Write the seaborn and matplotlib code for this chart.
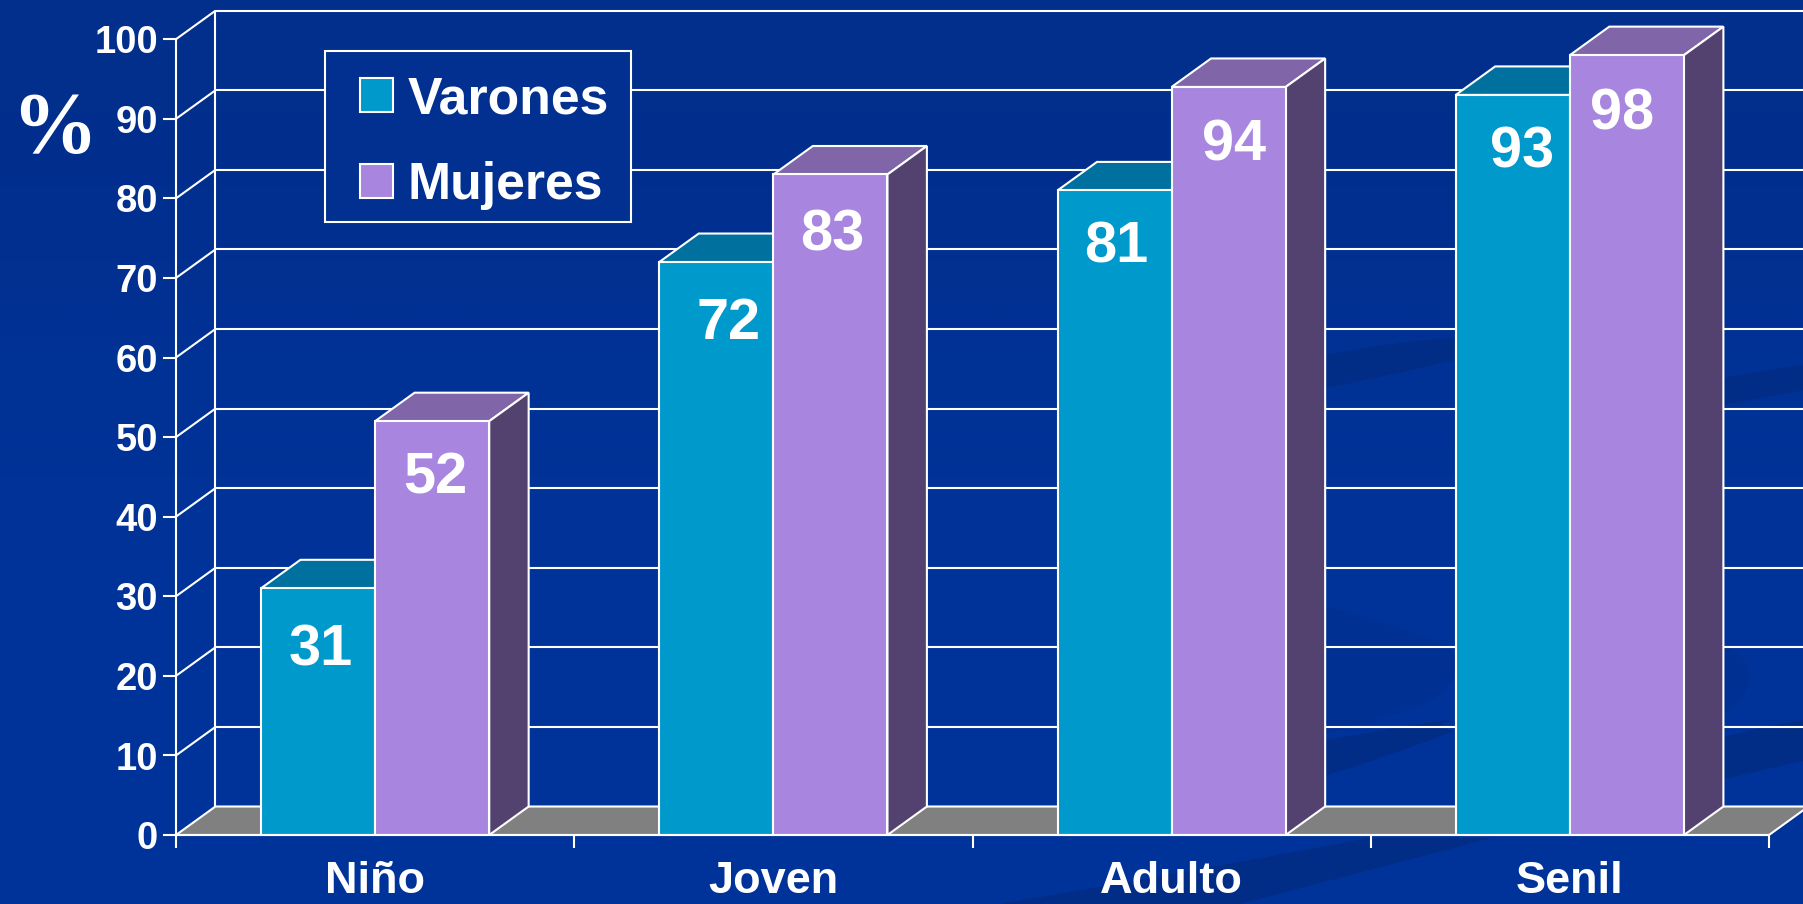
import numpy as np
import pandas as pd
import matplotlib
matplotlib.use('Agg')
import matplotlib.pyplot as plt
from matplotlib.patches import Polygon, PathPatch, Rectangle
from matplotlib.path import Path
import seaborn as sns

# Values
grupos = ['Niño', 'Joven', 'Adulto', 'Senil']
varones = [31, 72, 81, 93]
mujeres = [52, 83, 94, 98]
y_ticks = [0, 10, 20, 30, 40, 50, 60, 70, 80, 90, 100]

df = pd.DataFrame({
    'grupo': grupos * 2,
    'sexo': ['Varones'] * 4 + ['Mujeres'] * 4,
    'pct': varones + mujeres,
})

# hand placement of the value labels, in points from the default spot
label_dx = [[2, 8.5, 1, 6.5], [2.5, 1, 4, -3.5]]
label_dy = [[-1.5, -1, 2.5, 2.5], [2.5, 0, 1.5, 1]]

BLUE = '#003399'
COL_V = '#0099CC'
COL_M = '#A886DF'
TOP_V = '#00709E'
TOP_M = '#8066A8'
SIDE_M = '#53426F'
FLOOR = '#808080'
LW = 1.5

# depth of the fake 3D box, in data units
DX = 0.099
DY = 3.58

sns.set_style('white')
plt.rcParams['font.family'] = ['Liberation Sans', 'DejaVu Sans']
plt.rcParams['font.weight'] = 'bold'

fig = plt.figure(figsize=(18.03, 9.041), dpi=100, facecolor=BLUE)

# background with soft dark swooshes
bg = fig.add_axes([0, 0, 1, 1], zorder=-1)
bg.set_xlim(0, 1803)
bg.set_ylim(904, 0)
bg.axis('off')
cmap = matplotlib.colors.LinearSegmentedColormap.from_list('bg', ['#022E8C', BLUE])
bg.imshow(np.array([[0.0], [0.6], [1.0], [1.0]]), extent=(0, 1803, 904, 0), aspect='auto',
          cmap=cmap, interpolation='bilinear')


def swoosh(pts, color):
    # first point, then pairs of control point and end point
    codes = [Path.MOVETO] + [Path.CURVE3] * (len(pts) - 1) + [Path.CLOSEPOLY]
    bg.add_patch(PathPatch(Path(pts + [pts[0]], codes), fc=color, ec='none'))


DARK = '#022D87'
FAINT = '#013093'
swoosh([(1250, 585), (1400, 625), (1446, 646), (1470, 665), (1440, 695), (1400, 720), (1250, 750), (1300, 670), (1250, 585)], FAINT)
swoosh([(1560, 620), (1690, 625), (1735, 650), (1770, 680), (1723, 715), (1680, 740), (1560, 760), (1600, 690), (1560, 620)], FAINT)
swoosh([(1280, 790), (1380, 760), (1454, 731), (1430, 725), (1454, 719), (1380, 730), (1280, 748), (1270, 770), (1280, 790)], DARK)
swoosh([(1660, 795), (1740, 775), (1803, 761), (1815, 740), (1803, 720), (1740, 730), (1660, 755), (1640, 775), (1660, 795)], DARK)
swoosh([(1240, 904), (1370, 870), (1492, 838), (1400, 838), (1369, 838), (1200, 870), (1000, 904), (1100, 910), (1240, 904)], DARK)
swoosh([(1260, 400), (1350, 385), (1454, 360), (1460, 345), (1454, 338), (1350, 345), (1240, 375), (1240, 390), (1260, 400)], DARK)
swoosh([(1650, 415), (1730, 405), (1803, 390), (1815, 375), (1803, 365), (1730, 375), (1640, 395), (1640, 405), (1650, 415)], DARK)

ax = fig.add_axes([176 / 1803, 1 - 835 / 904, (1769 - 176) / 1803, (835 - 39.3) / 904])
ax.patch.set_alpha(0)

sns.barplot(data=df, x='grupo', y='pct', hue='sexo', order=grupos,
            hue_order=['Varones', 'Mujeres'], palette=[COL_V, COL_M],
            width=0.573, gap=0, saturation=1, edgecolor='white', linewidth=LW, ax=ax)

ax.set_xlim(-0.5, 3.5)
ax.set_ylim(0, 100)
ax.set_xlabel('')
ax.set_ylabel('')
ax.set_yticks(y_ticks)


def face(pts, color, z):
    ax.add_patch(Polygon(pts, closed=True, fc=color, ec='white', lw=LW, zorder=z, clip_on=False))


def wall_line(x, y, z=1.2):
    ax.plot(x, y, color='white', lw=LW, zorder=z, clip_on=False, solid_capstyle='butt')


# back wall and floor
for t in y_ticks[1:]:
    wall_line([-0.5 + DX, 3.5 + DX], [t + DY, t + DY])
    wall_line([-0.5, -0.5 + DX], [t, t + DY])
wall_line([-0.5 + DX, -0.5 + DX], [DY, 100 + DY])
face([(-0.5, 0), (-0.5 + DX, DY), (3.5 + DX, DY), (3.5, 0)], FLOOR, 1.5)

# top and side faces taken from the seaborn bars
for i, (cont, top, z) in enumerate(zip(ax.containers, [TOP_V, TOP_M], [3, 5])):
    for bar in cont:
        x0, x1 = bar.get_x(), bar.get_x() + bar.get_width()
        h = bar.get_height()
        bar.set_zorder(z + 1)
        face([(x0, h), (x0 + DX, h + DY), (x1 + DX, h + DY), (x1, h)], top, z)
        if top == TOP_M:
            face([(x1, 0), (x1 + DX, DY), (x1 + DX, h + DY), (x1, h)], SIDE_M, z)
    labels = ax.bar_label(cont, fmt='%d', color='white', fontsize=41.5, fontweight='bold',
                          padding=-63, zorder=9)
    for lab, ox, oy in zip(labels, label_dx[i], label_dy[i]):
        lab.xyann = (lab.xyann[0] + ox, lab.xyann[1] + oy)

# axes
sns.despine(ax=ax)
for s in ['left', 'bottom']:
    ax.spines[s].set_color('white')
    ax.spines[s].set_linewidth(LW)
    ax.spines[s].set_zorder(8)
ax.set_xticks(np.arange(-0.5, 4), minor=True)
ax.tick_params(axis='x', which='minor', length=9.5, width=LW, color='white', bottom=True)
ax.tick_params(axis='x', which='major', length=0, pad=19, labelsize=32.5, labelcolor='white')
ax.tick_params(axis='y', length=9.5, width=LW, color='white', left=True, pad=3.5, labelsize=27.5, labelcolor='white')
ax.set_axisbelow(False)

fig.text(54 / 1803, 1 - 131 / 904, '%', color='white', fontsize=62, fontweight='bold',
         family='Liberation Serif', ha='center', va='center')

# legend: box drawn by hand so the side and top padding can differ
ax.add_patch(Rectangle(((325.4 - 176) / 1593, 1 - (222 - 39.3) / 795.7), 305.6 / 1593, 171.4 / 795.7,
                       transform=ax.transAxes, fc='#023090', ec='white', lw=LW, zorder=2))
sns.move_legend(ax, 'upper left', bbox_to_anchor=((360 - 176) / 1593, 1 - (75.5 - 39.3) / 795.7),
                title=None, frameon=False, fontsize=37.3, labelcolor='white', borderaxespad=0,
                handlelength=0.64, handleheight=0.64, handletextpad=0.28, labelspacing=0.71, borderpad=0)
leg = ax.get_legend()
leg.set_zorder(2.5)
for p in leg.get_patches():
    p.set_edgecolor('white')
    p.set_linewidth(LW)

fig.savefig('out.png', dpi=100, facecolor=fig.get_facecolor())
